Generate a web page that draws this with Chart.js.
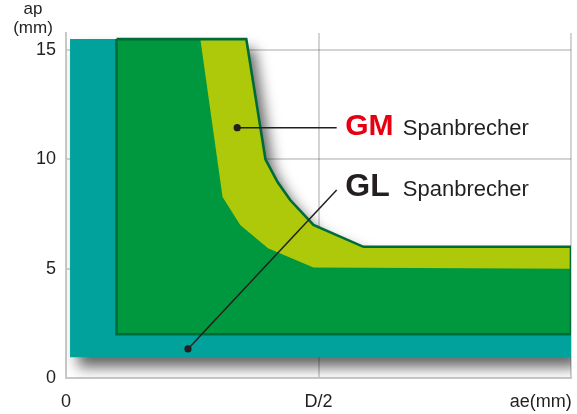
<!DOCTYPE html>
<html>
<head>
<meta charset="utf-8">
<style>
  html, body { margin: 0; padding: 0; background: #fff; }
  #wrap { width: 577px; height: 414px; }
</style>
<script src="https://cdn.jsdelivr.net/npm/chart.js@4.4.1/dist/chart.umd.min.js"></script>
</head>
<body>
<div id="wrap"><canvas id="chart" width="577" height="414"></canvas></div>
<script>
// x = ae as fraction of D, y = ap (mm)
const tealX = [0.008, 0.357, 0.395, 0.419, 0.444, 0.49, 0.589, 1.0, 1.0, 0.008, 0.008];
const tealY = [15.5, 15.5, 10.0, 8.96, 8.14, 7.0, 6.0, 6.0, 0.95, 0.95, 15.5];

const glX = [0.1, 0.357, 0.395, 0.419, 0.444, 0.49, 0.589, 1.0, 1.0, 0.1, 0.1];
const glY = [15.5, 15.5, 10.0, 8.96, 8.14, 7.0, 6.0, 6.0, 2.0, 2.0, 15.5];

const gmX = [0.266, 0.357, 0.395, 0.419, 0.444, 0.49, 0.589, 1.0, 1.0, 0.49, 0.40, 0.345, 0.31, 0.266];
const gmY = [15.5, 15.5, 10.0, 8.96, 8.14, 7.0, 6.0, 6.0, 5.0, 5.05, 5.94, 7.0, 8.28, 15.5];

// leader lines (dot first)
const gmLeadX = [0.339, 0.536];
const gmLeadY = [11.45, 11.45];
const glLeadX = [0.2415, 0.536];
const glLeadY = [1.33, 8.6];

const xTicks = [0, 0.5, 0.94, 1.0];
const xLabels = ["0", "D/2", "ae(mm)", ""];
const yTicks = [0, 5, 10, 15];
const yTitle = ["ap", "(mm)"];

const noteNames = ["GM", "GL"];
const noteWord = "Spanbrecher";
const noteX = [0.553, 0.553];
const noteWordX = 0.667;
const noteY = [11.1, 8.32];

const FONT = '"Liberation Sans", Arial, Helvetica, sans-serif';
const TXT = "#231f20";

function pts(xs, ys) {
  return xs.map((x, i) => ({ x, y: ys[i] }));
}

// shadow under the whole area (teal shape is drawn first)
const shadowPlugin = {
  id: "areaShadow",
  beforeDatasetsDraw(chart) {
    const ctx = chart.ctx;
    ctx.save();
    ctx.shadowColor = "rgba(0,0,0,0.6)";
    ctx.shadowBlur = 14;
    ctx.shadowOffsetX = 8;
    ctx.shadowOffsetY = 10;
  },
  afterDatasetDraw(chart, args) {
    if (args.index === 5) chart.ctx.restore();
  },
};

const textPlugin = {
  id: "texts",
  afterDraw(chart) {
    const { ctx, scales } = chart;
    const sx = scales.x, sy = scales.y;
    ctx.save();
    ctx.fillStyle = TXT;
    ctx.textBaseline = "alphabetic";

    // y axis title
    ctx.textAlign = "center";
    ctx.font = "17px " + FONT;
    ctx.fillText(yTitle[0], 33, 14);
    ctx.fillText(yTitle[1], 33, 33);

    // GM / GL notes
    ctx.textAlign = "left";
    noteNames.forEach((n, i) => {
      const py = sy.getPixelForValue(noteY[i]);
      ctx.font = "bold " + (i === 0 ? 30 : 32) + "px " + FONT;
      ctx.fillStyle = i === 0 ? "#e60012" : TXT;
      ctx.fillText(n, sx.getPixelForValue(noteX[i]), py);
      ctx.font = "22px " + FONT;
      ctx.fillStyle = TXT;
      ctx.fillText(noteWord, sx.getPixelForValue(noteWordX), py);
    });
    ctx.restore();
  },
};

const lead = (data) => ({
  data,
  showLine: true,
  fill: false,
  borderColor: TXT,
  borderWidth: 1.5,
  pointRadius: [3.6, 0],
  pointBackgroundColor: TXT,
  pointBorderWidth: 0,
  tension: 0,
});

new Chart(document.getElementById("chart"), {
  type: "scatter",
  data: {
    // first dataset is drawn on top
    datasets: [
      lead(pts(gmLeadX, gmLeadY)),
      lead(pts(glLeadX, glLeadY)),
      { data: pts(glX, glY), showLine: true, fill: false, borderColor: "#006b3a", borderWidth: 2.6, pointRadius: 0, tension: 0, borderJoinStyle: "miter" },
      { data: pts(gmX, gmY), showLine: true, fill: "shape", backgroundColor: "#adc90a", borderColor: "transparent", borderWidth: 0, pointRadius: 0, tension: 0 },
      { data: pts(glX, glY), showLine: true, fill: "shape", backgroundColor: "#00983f", borderColor: "transparent", borderWidth: 0, pointRadius: 0, tension: 0 },
      { data: pts(tealX, tealY), showLine: true, fill: "shape", backgroundColor: "#00a29b", borderColor: "transparent", borderWidth: 0, pointRadius: 0, tension: 0 },
    ],
  },
  options: {
    responsive: false,
    animation: false,
    events: [],
    layout: { padding: { top: 33, right: 6, left: 0, bottom: 0 } },
    plugins: {
      legend: { display: false },
      tooltip: { enabled: false },
    },
    scales: {
      x: {
        type: "linear",
        min: 0,
        max: 1,
        z: 1,
        afterFit: (s) => { s.height = 36; s.paddingLeft = 0; s.paddingRight = 0; },
        afterBuildTicks: (s) => { s.ticks = xTicks.map((v) => ({ value: v })); },
        border: { color: "#c8c8c8", width: 2 },
        grid: {
          drawTicks: false,
          lineWidth: 2,
          color: (c) => (c.tick && (c.tick.value === 0.5 || c.tick.value === 1) ? "rgba(0,0,0,0.17)" : "rgba(0,0,0,0)"),
        },
        ticks: {
          autoSkip: false,
          maxRotation: 0,
          padding: 13,
          color: TXT,
          font: { family: FONT, size: 18 },
          callback: (v, i) => xLabels[i],
        },
      },
      y: {
        type: "linear",
        min: 0,
        max: 15.78,
        z: 1,
        afterFit: (s) => { s.width = 66; s.paddingTop = 0; s.paddingBottom = 0; },
        afterBuildTicks: (s) => { s.ticks = yTicks.map((v) => ({ value: v })); },
        border: { color: "#c8c8c8", width: 2 },
        grid: {
          drawTicks: false,
          lineWidth: 2,
          color: (c) => (c.tick && c.tick.value > 0 ? "rgba(0,0,0,0.17)" : "rgba(0,0,0,0)"),
        },
        ticks: {
          autoSkip: false,
          padding: 10,
          color: TXT,
          font: { family: FONT, size: 18 },
          callback: (v) => String(v),
        },
      },
    },
  },
  plugins: [shadowPlugin, textPlugin],
});
</script>
</body>
</html>
